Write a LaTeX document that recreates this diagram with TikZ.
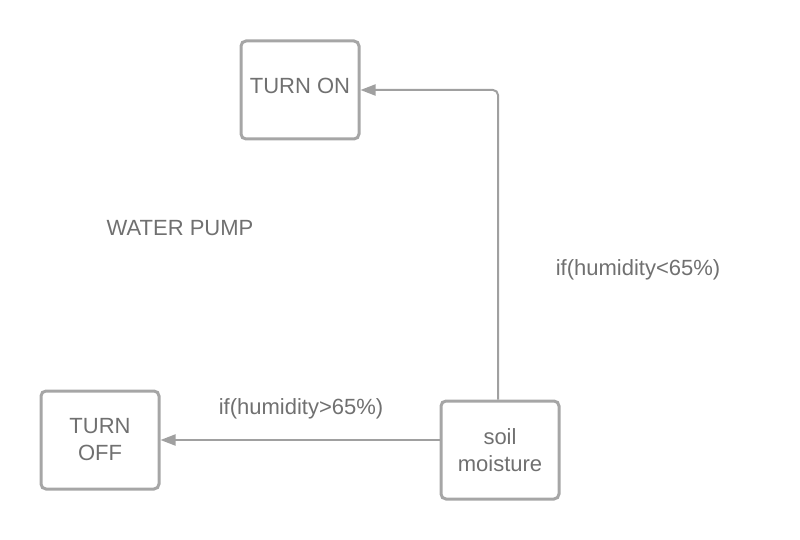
\documentclass[tikz,border=0pt]{standalone}
\usepackage{fontspec}
\setmainfont{Liberation Sans}
\usetikzlibrary{arrows.meta}
\definecolor{boxgray}{HTML}{A6A6A6}
\definecolor{linegray}{HTML}{A0A0A0}
\definecolor{txtgray}{HTML}{707070}
\begin{document}
\begin{tikzpicture}[x=1pt,y=-1pt,
  box/.style={draw=boxgray,line width=3pt,rounded corners=5pt,minimum width=118pt,minimum height=98pt,inner sep=0pt,align=center,text=txtgray,font=\fontsize{22}{27}\selectfont},
  lbl/.style={text=txtgray,font=\fontsize{22}{27}\selectfont,inner sep=0pt},
  conn/.style={draw=linegray,line width=2pt,-{Triangle[length=15pt,width=11pt]}}]
\useasboundingbox (0,0) rectangle (800,540);
\node[box] (on) at (300,90) {};
\node[lbl] (ontext) at (300,86) {TURN ON};
\node[box] (off) at (100,440) {TURN\\OFF};
\node[box] (soil) at (500,450) {soil\\moisture};
\node[lbl] (pump) at (180,228) {WATER PUMP};
\node[lbl] (l1) at (638,270) {if(humidity<65\%)};
\node[lbl] (l2) at (301,409) {if(humidity>65\%)};
\coordinate (c) at (498,90);
\draw[conn,rounded corners=5pt] (soil.north -| c) -- (c) -- (on.east);
\draw[conn] (soil.west |- off.east) -- (off.east);
\end{tikzpicture}
\end{document}
